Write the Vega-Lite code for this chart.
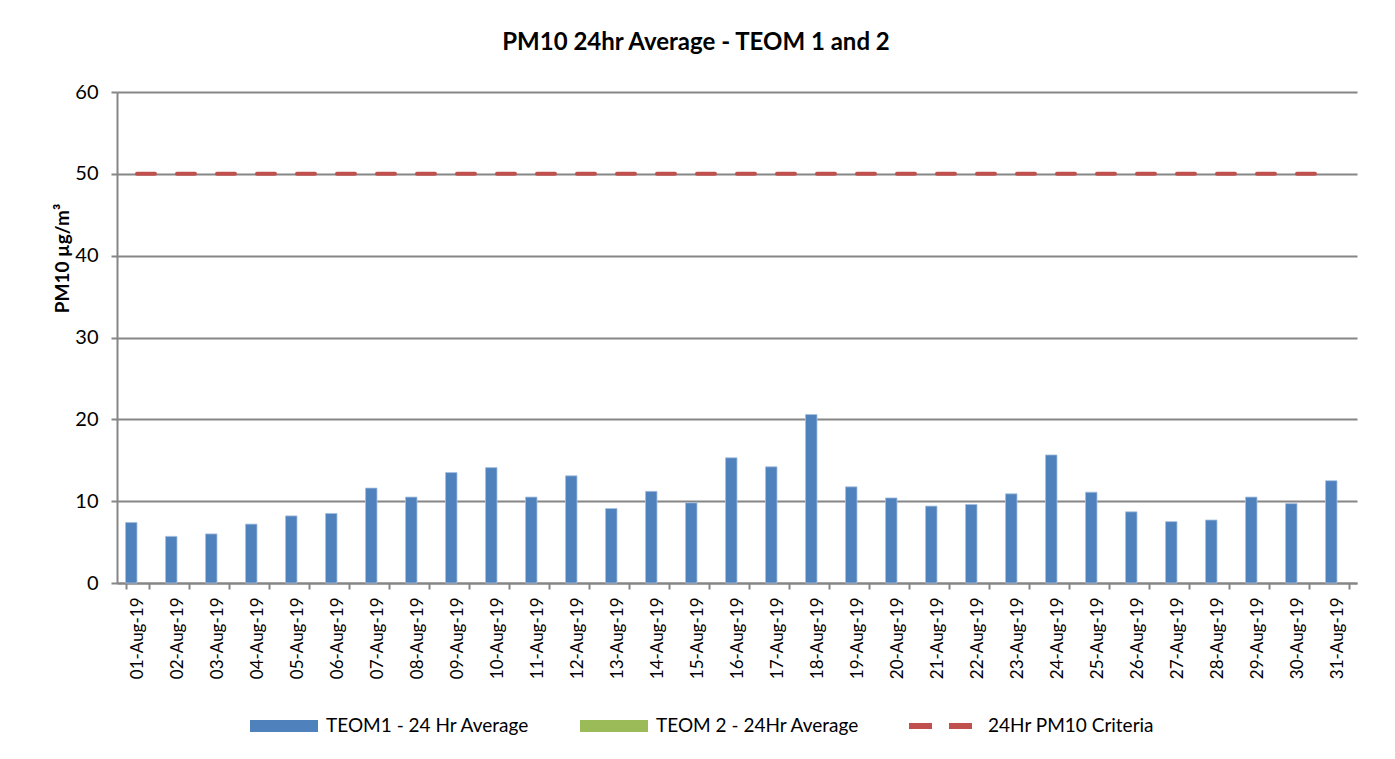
{
  "$schema": "https://vega.github.io/schema/vega-lite/v6.json",
  "width": 1240,
  "height": 491,
  "autosize": {"type": "none"},
  "padding": {"left": 117, "top": 92, "right": 38, "bottom": 176},
  "background": "white",
  "config": {
    "view": {"stroke": null},
    "font": "Lato",
    "axis": {"labelFont": "Lato", "titleFont": "Lato", "labelColor": "#000000", "titleColor": "#000000"}
  },
  "title": {
    "text": "PM10 24hr Average - TEOM 1 and 2",
    "font": "Lato",
    "fontSize": 24,
    "fontWeight": "bold",
    "color": "#000000",
    "anchor": "middle",
    "dx": -41,
    "offset": 27
  },
  "resolve": {"scale": {"color": "independent"}, "legend": {"color": "independent"}},
  "data": {
    "values": [
      {"date": "01-Aug-19", "series": "TEOM1 - 24 Hr Average", "pm10": 7.4, "criteria": 50},
      {"date": "02-Aug-19", "series": "TEOM1 - 24 Hr Average", "pm10": 5.7, "criteria": 50},
      {"date": "03-Aug-19", "series": "TEOM1 - 24 Hr Average", "pm10": 6.0, "criteria": 50},
      {"date": "04-Aug-19", "series": "TEOM1 - 24 Hr Average", "pm10": 7.2, "criteria": 50},
      {"date": "05-Aug-19", "series": "TEOM1 - 24 Hr Average", "pm10": 8.2, "criteria": 50},
      {"date": "06-Aug-19", "series": "TEOM1 - 24 Hr Average", "pm10": 8.5, "criteria": 50},
      {"date": "07-Aug-19", "series": "TEOM1 - 24 Hr Average", "pm10": 11.6, "criteria": 50},
      {"date": "08-Aug-19", "series": "TEOM1 - 24 Hr Average", "pm10": 10.5, "criteria": 50},
      {"date": "09-Aug-19", "series": "TEOM1 - 24 Hr Average", "pm10": 13.5, "criteria": 50},
      {"date": "10-Aug-19", "series": "TEOM1 - 24 Hr Average", "pm10": 14.1, "criteria": 50},
      {"date": "11-Aug-19", "series": "TEOM1 - 24 Hr Average", "pm10": 10.5, "criteria": 50},
      {"date": "12-Aug-19", "series": "TEOM1 - 24 Hr Average", "pm10": 13.1, "criteria": 50},
      {"date": "13-Aug-19", "series": "TEOM1 - 24 Hr Average", "pm10": 9.1, "criteria": 50},
      {"date": "14-Aug-19", "series": "TEOM1 - 24 Hr Average", "pm10": 11.2, "criteria": 50},
      {"date": "15-Aug-19", "series": "TEOM1 - 24 Hr Average", "pm10": 9.8, "criteria": 50},
      {"date": "16-Aug-19", "series": "TEOM1 - 24 Hr Average", "pm10": 15.3, "criteria": 50},
      {"date": "17-Aug-19", "series": "TEOM1 - 24 Hr Average", "pm10": 14.2, "criteria": 50},
      {"date": "18-Aug-19", "series": "TEOM1 - 24 Hr Average", "pm10": 20.6, "criteria": 50},
      {"date": "19-Aug-19", "series": "TEOM1 - 24 Hr Average", "pm10": 11.75, "criteria": 50},
      {"date": "20-Aug-19", "series": "TEOM1 - 24 Hr Average", "pm10": 10.4, "criteria": 50},
      {"date": "21-Aug-19", "series": "TEOM1 - 24 Hr Average", "pm10": 9.4, "criteria": 50},
      {"date": "22-Aug-19", "series": "TEOM1 - 24 Hr Average", "pm10": 9.6, "criteria": 50},
      {"date": "23-Aug-19", "series": "TEOM1 - 24 Hr Average", "pm10": 10.9, "criteria": 50},
      {"date": "24-Aug-19", "series": "TEOM1 - 24 Hr Average", "pm10": 15.65, "criteria": 50},
      {"date": "25-Aug-19", "series": "TEOM1 - 24 Hr Average", "pm10": 11.1, "criteria": 50},
      {"date": "26-Aug-19", "series": "TEOM1 - 24 Hr Average", "pm10": 8.7, "criteria": 50},
      {"date": "27-Aug-19", "series": "TEOM1 - 24 Hr Average", "pm10": 7.5, "criteria": 50},
      {"date": "28-Aug-19", "series": "TEOM1 - 24 Hr Average", "pm10": 7.7, "criteria": 50},
      {"date": "29-Aug-19", "series": "TEOM1 - 24 Hr Average", "pm10": 10.5, "criteria": 50},
      {"date": "30-Aug-19", "series": "TEOM1 - 24 Hr Average", "pm10": 9.7, "criteria": 50},
      {"date": "31-Aug-19", "series": "TEOM1 - 24 Hr Average", "pm10": 12.5, "criteria": 50}
    ]
  },
  "encoding": {
    "x": {
      "field": "date",
      "type": "ordinal",
      "sort": null,
      "scale": {"paddingInner": 0.425, "paddingOuter": 0.2125},
      "axis": {
        "title": null,
        "labelAngle": -90,
        "labelFontSize": 17,
        "labelPadding": 8,
        "tickBand": "extent",
        "tickSize": 6,
        "tickWidth": 2,
        "tickColor": "#868686",
        "domainColor": "#868686",
        "domainWidth": 2,
        "grid": false
      }
    }
  },
  "layer": [
    {
      "mark": {"type": "bar", "stroke": "#a9c1e0", "strokeWidth": 0.8},
      "encoding": {
        "xOffset": {"field": "series", "type": "nominal", "scale": {"domain": ["TEOM1 - 24 Hr Average", "TEOM 2 - 24Hr Average"], "paddingInner": 0, "paddingOuter": 0}},
        "y": {
          "field": "pm10",
          "type": "quantitative",
          "scale": {"domain": [0, 60], "nice": false},
          "axis": {
            "title": "PM10 µg/m³",
            "titleFontSize": 19,
            "titleFontWeight": "bold",
            "titleX": -55,
            "titleY": 166,
            "titleBaseline": "middle",
            "titleAngle": -90,
            "values": [0, 10, 20, 30, 40, 50, 60],
            "labelFontSize": 20,
            "labelPadding": 13,
            "tickSize": 6,
            "tickWidth": 2,
            "tickColor": "#868686",
            "domainColor": "#868686",
            "domainWidth": 2,
            "gridColor": "#868686",
            "gridWidth": 2
          }
        },
        "color": {
          "field": "series",
          "type": "nominal",
          "scale": {
            "domain": ["TEOM1 - 24 Hr Average", "TEOM 2 - 24Hr Average"],
            "range": ["#4F81BD", "#9BBB59"]
          },
          "legend": {
            "title": null,
            "orient": "none",
            "legendX": 133,
            "legendY": 600,
            "direction": "horizontal",
            "columns": 2,
            "columnPadding": 50,
            "labelFont": "Lato",
            "labelFontSize": 19,
            "labelColor": "#000000",
            "labelOffset": 8,
            "labelLimit": 0,
            "symbolSize": 4624,
            "symbolType": "M-1,-0.176H1V0.176H-1Z",
            "symbolStrokeWidth": 0
          }
        }
      }
    },
    {
      "mark": {"type": "line", "strokeWidth": 4, "strokeDash": [18, 22], "strokeCap": "round"},
      "encoding": {
        "y": {"field": "criteria", "type": "quantitative"},
        "color": {
          "datum": "24Hr PM10 Criteria",
          "scale": {"domain": ["24Hr PM10 Criteria"], "range": ["#C0504D"]},
          "legend": {
            "title": null,
            "orient": "none",
            "legendX": 789,
            "legendY": 597,
            "labelFont": "Lato",
            "labelFontSize": 19,
            "labelColor": "#000000",
            "labelOffset": 8,
            "labelLimit": 0,
            "symbolSize": 4624,
            "symbolType": "stroke",
            "symbolStrokeWidth": 6,
            "symbolDash": [23, 17]
          }
        }
      }
    }
  ]
}
